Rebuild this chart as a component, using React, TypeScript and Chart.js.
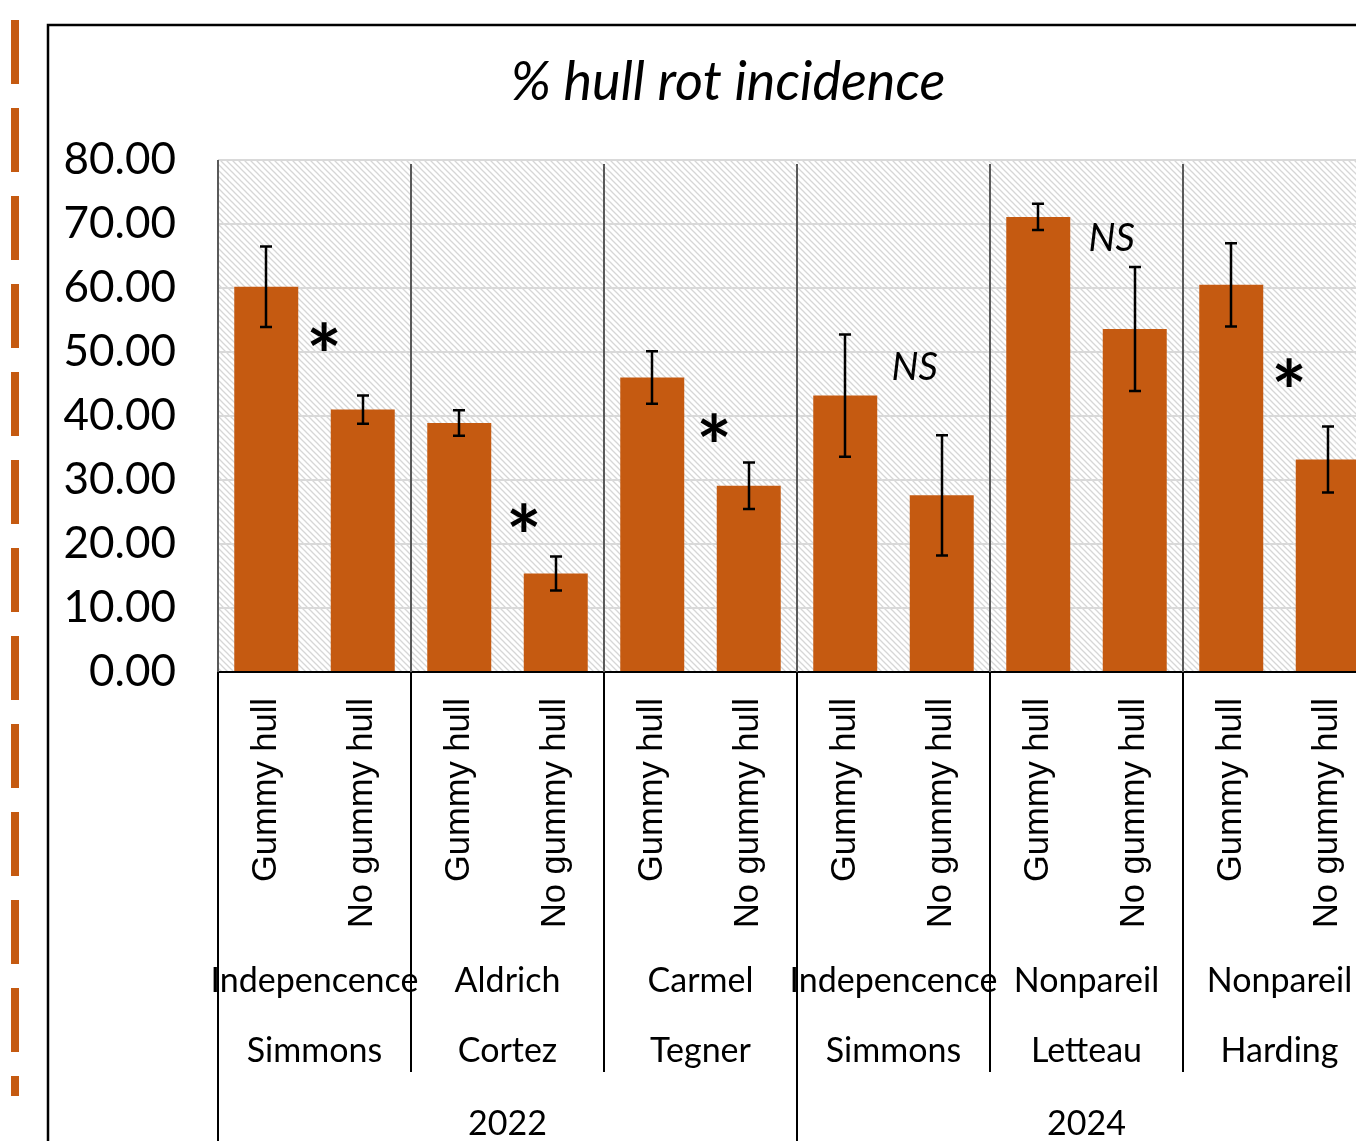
import React, { useEffect, useRef } from "react";
import { Chart, registerables } from "chart.js";

Chart.register(...registerables);

// ---- data ----
const categories = [
  "Gummy hull", "No gummy hull",
  "Gummy hull", "No gummy hull",
  "Gummy hull", "No gummy hull",
  "Gummy hull", "No gummy hull",
  "Gummy hull", "No gummy hull",
  "Gummy hull", "No gummy hull",
];
const means = [60.2, 41.0, 38.9, 15.4, 46.0, 29.1, 43.2, 27.6, 71.1, 53.6, 60.5, 33.2];
const errors = [6.3, 2.2, 2.0, 2.65, 4.1, 3.65, 9.55, 9.4, 2.05, 9.7, 6.5, 5.15];
const cultivars = ["Indepencence", "Aldrich", "Carmel", "Indepencence", "Nonpareil", "Nonpareil"];
const orchards = ["Simmons", "Cortez", "Tegner", "Simmons", "Letteau", "Harding"];
const years = ["2022", "2024"];
const yMin = 0;
const yMax = 80;
const yStep = 10;
const annotationTexts = ["*", "*", "*", "NS", "NS", "*"];
const annotationIndex = [0.6, 2.67, 4.64, 6.72, 8.76, 10.6];
const annotationValues = [52.5, 24.2, 38.2, 47.8, 68.0, 46.8];
const titleText = "% hull rot incidence";

// ---- layout / style ----
const W = 1400;
const H = 1141;
const BAR = "#C55A11";
const CAL = "Lato, 'Open Sans', sans-serif";

function makeHatch(ctx: CanvasRenderingContext2D) {
  const c = document.createElement("canvas");
  const s = 6;
  c.width = s;
  c.height = s;
  const g = c.getContext("2d")!;
  g.fillStyle = "#ffffff";
  g.fillRect(0, 0, s, s);
  g.strokeStyle = "#d6d6d6";
  g.lineWidth = 1.3;
  g.beginPath();
  g.moveTo(-1, -1);
  g.lineTo(s + 1, s + 1);
  g.moveTo(-1, s - 1);
  g.lineTo(1, s + 1);
  g.moveTo(s - 1, -1);
  g.lineTo(s + 1, 1);
  g.stroke();
  return ctx.createPattern(c, "repeat");
}

function drawCentered(ctx: CanvasRenderingContext2D, text: string, x: number, y: number) {
  const m = ctx.measureText(text);
  const asc = m.actualBoundingBoxAscent;
  const desc = m.actualBoundingBoxDescent;
  ctx.textAlign = "center";
  ctx.textBaseline = "alphabetic";
  ctx.fillText(text, x, y + (asc - desc) / 2);
}

function drawOnBaseline(ctx: CanvasRenderingContext2D, text: string, x: number, y: number) {
  ctx.textAlign = "center";
  ctx.textBaseline = "alphabetic";
  ctx.fillText(text, x, y);
}

const overlay = {
  id: "overlay",
  beforeDraw(chart: any) {
    const ctx: CanvasRenderingContext2D = chart.ctx;
    const a = chart.chartArea;
    ctx.save();
    // orange dashed line at far left
    ctx.fillStyle = BAR;
    for (let y = 20; y < 1096; y += 88) {
      ctx.fillRect(11, y, 8, Math.min(64, 1096 - y));
    }
    // chart frame
    ctx.strokeStyle = "#000";
    ctx.lineWidth = 2.5;
    ctx.beginPath();
    ctx.moveTo(48, H + 5);
    ctx.lineTo(48, 25);
    ctx.lineTo(W + 5, 25);
    ctx.stroke();
    // hatched plot background
    const pat = makeHatch(ctx);
    if (pat) {
      ctx.fillStyle = pat;
      ctx.fillRect(a.left, a.top, a.right - a.left, a.bottom - a.top);
    }
    ctx.restore();
  },
  afterDatasetsDraw(chart: any) {
    const ctx: CanvasRenderingContext2D = chart.ctx;
    const a = chart.chartArea;
    const xs = chart.scales.x;
    const ys = chart.scales.y;
    ctx.save();

    // error bars
    ctx.strokeStyle = "#000";
    ctx.lineWidth = 2.5;
    means.forEach((m, i) => {
      const x = Math.round(xs.getPixelForValue(i));
      const t = ys.getPixelForValue(m + errors[i]);
      const b = ys.getPixelForValue(m - errors[i]);
      ctx.beginPath();
      ctx.moveTo(x, t);
      ctx.lineTo(x, b);
      ctx.moveTo(x - 6, t);
      ctx.lineTo(x + 6, t);
      ctx.moveTo(x - 6, b);
      ctx.lineTo(x + 6, b);
      ctx.stroke();
    });

    // group separators
    const nGroups = cultivars.length;
    for (let g = 0; g < nGroups; g++) {
      const bx = xs.getPixelForValue(2 * g - 0.5);
      ctx.strokeStyle = "#595959";
      ctx.lineWidth = 2;
      ctx.beginPath();
      ctx.moveTo(bx, a.top + (g === 0 ? 0 : 4));
      ctx.lineTo(bx, a.bottom);
      ctx.stroke();
      ctx.strokeStyle = "#000";
      ctx.beginPath();
      ctx.moveTo(bx, a.bottom);
      ctx.lineTo(bx, g % 3 === 0 ? H + 5 : 1072);
      ctx.stroke();
    }

    // group labels
    ctx.fillStyle = "#000";
    ctx.font = `34px ${CAL}`;
    for (let g = 0; g < nGroups; g++) {
      const cx = xs.getPixelForValue(2 * g + 0.5);
      drawOnBaseline(ctx, cultivars[g], cx, 992);
      drawOnBaseline(ctx, orchards[g], cx, 1062);
    }
    years.forEach((yr, k) => {
      const cx = xs.getPixelForValue(6 * k + 2.5);
      drawOnBaseline(ctx, yr, cx, 1135);
    });

    // significance annotations
    const x0 = xs.getPixelForValue(0);
    const dx = xs.getPixelForValue(1) - x0;
    annotationTexts.forEach((t, i) => {
      ctx.font = t === "*" ? `bold 84px ${CAL}` : `italic 38px ${CAL}`;
      drawCentered(ctx, t, x0 + annotationIndex[i] * dx, ys.getPixelForValue(annotationValues[i]));
    });

    // title
    ctx.font = `italic 54px ${CAL}`;
    drawCentered(ctx, titleText, 728, 80);
    ctx.restore();
  },
};

export default function App() {
  const ref = useRef<HTMLCanvasElement | null>(null);
  useEffect(() => {
    if (!ref.current) return;
    const chart = new Chart(ref.current, {
      type: "bar",
      data: {
        labels: categories,
        datasets: [
          {
            data: means,
            backgroundColor: BAR,
            borderWidth: 0,
            barPercentage: 0.663,
            categoryPercentage: 1,
          },
        ],
      },
      options: {
        animation: false,
        responsive: false,
        devicePixelRatio: 1,
        layout: { padding: { left: 0, top: 160, right: 24, bottom: 0 } },
        plugins: { legend: { display: false }, tooltip: { enabled: false }, title: { display: false } },
        scales: {
          x: {
            grid: { display: false, drawTicks: false },
            border: { display: true, color: "#000", width: 2 },
            ticks: {
              autoSkip: false,
              minRotation: 90,
              maxRotation: 90,
              padding: 26,
              color: "#000",
              font: { family: "'Liberation Sans', Arial, sans-serif", size: 34.5 },
            },
            afterFit: (s: any) => {
              s.height = H - 672;
            },
          },
          y: {
            min: yMin,
            max: yMax,
            grid: { color: "#d9d9d9", lineWidth: 2, drawTicks: false },
            border: { display: false },
            ticks: {
              stepSize: yStep,
              padding: 42,
              color: "#000",
              font: { family: CAL, size: 44 },
              callback: (v: any) => Number(v).toFixed(2),
            },
            afterFit: (s: any) => {
              s.width = 218;
            },
          },
        },
      },
      plugins: [overlay],
    });
    return () => chart.destroy();
  }, []);
  return (
    <div style={{ position: "fixed", left: 0, top: 0, width: 1356, height: 1141, overflow: "hidden", background: "#fff" }}>
      <canvas ref={ref} width={W} height={H} style={{ width: W, height: H, display: "block" }} />
    </div>
  );
}
